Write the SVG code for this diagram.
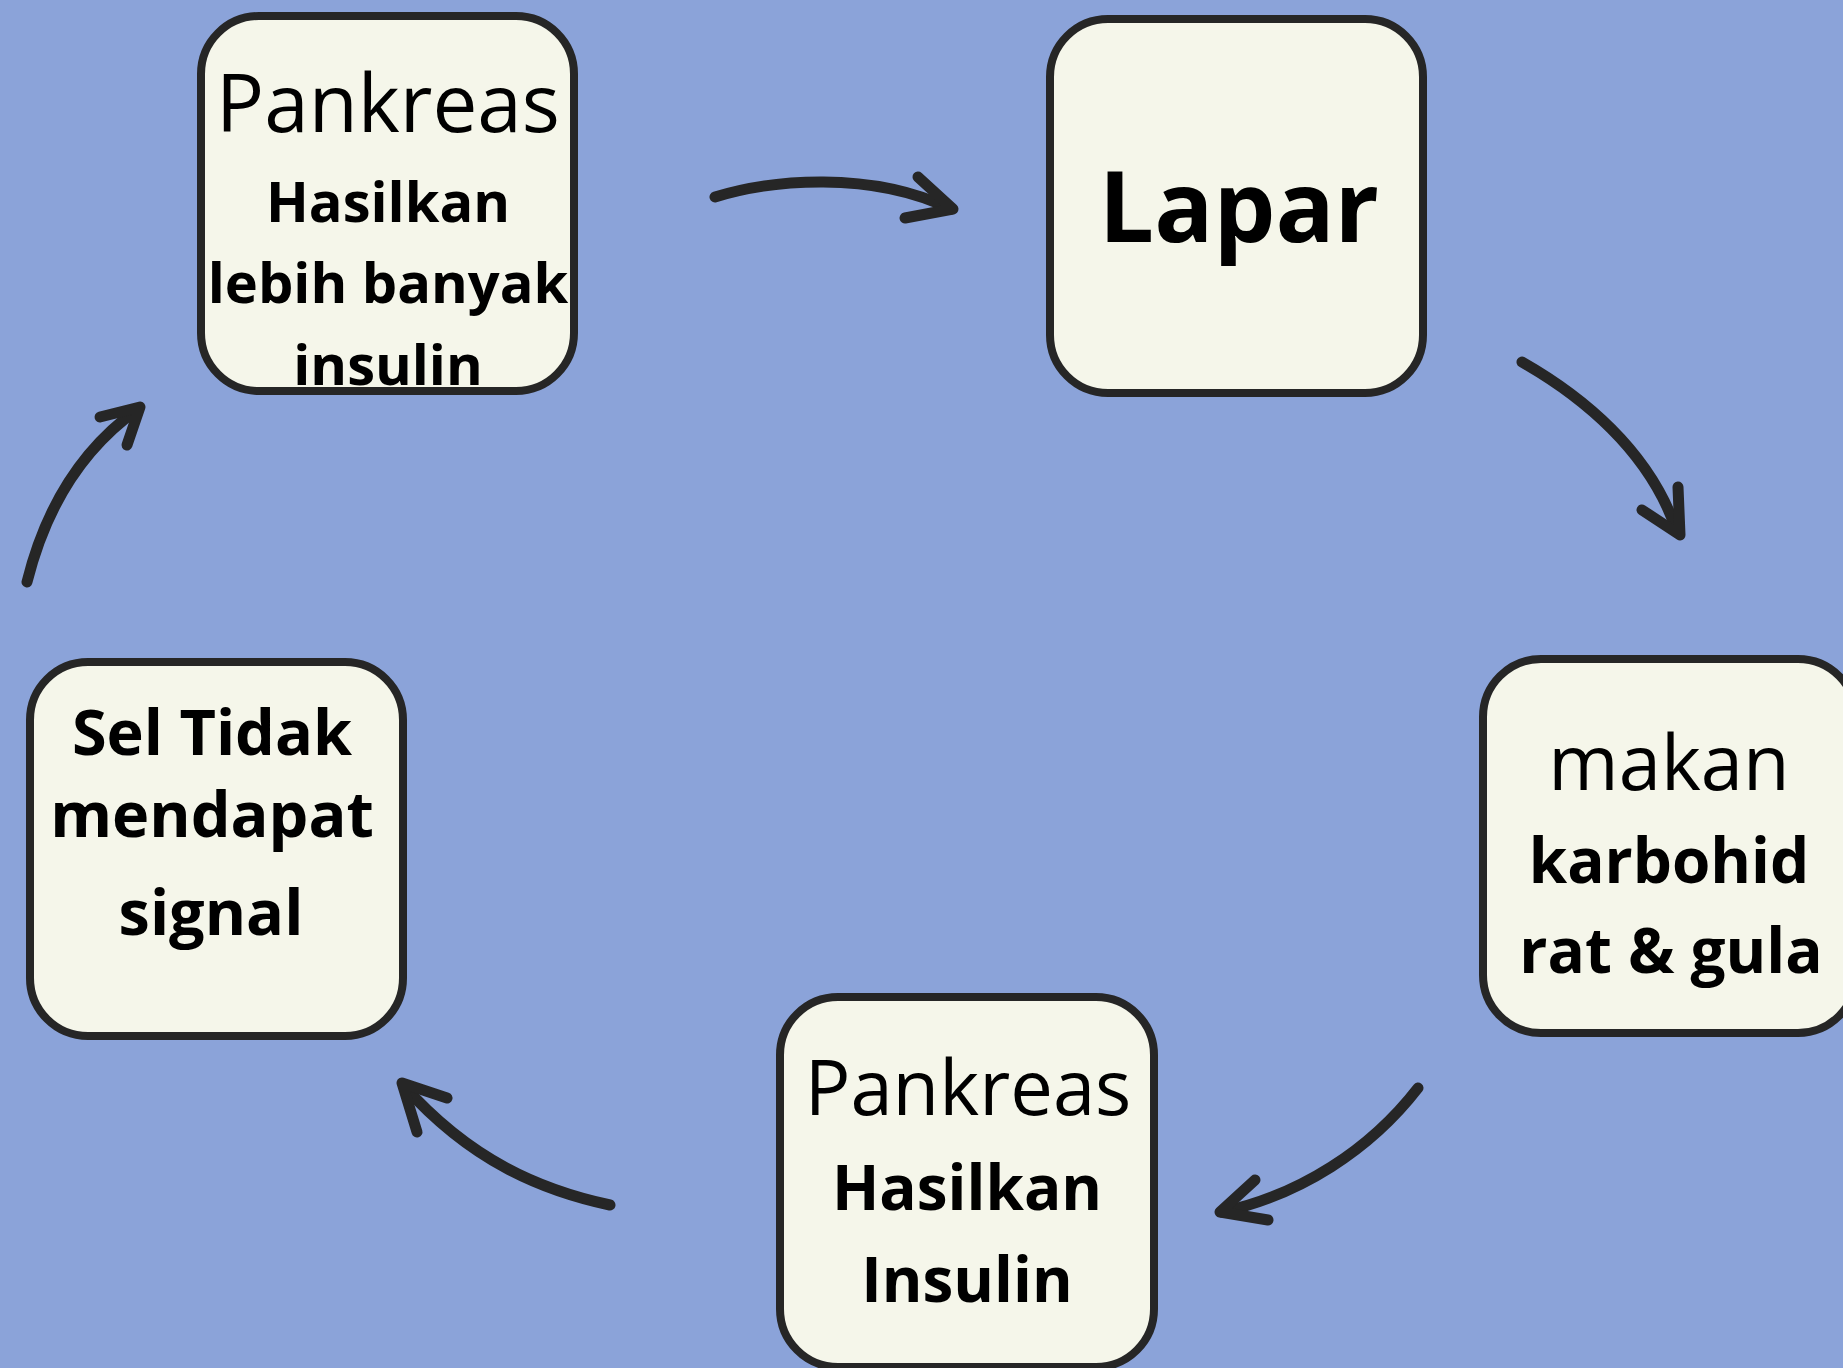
<svg xmlns="http://www.w3.org/2000/svg" width="1843" height="1368" viewBox="0 0 1843 1368">
<style>
.bg{fill:#8BA3D9}
.box{fill:#F5F6EA}
.bd{fill:none;stroke:#262626;stroke-width:8}
.lt{font-family:"Open Sans","Noto Sans",sans-serif;font-weight:400;fill:#000;text-anchor:middle}
.bt{font-family:"Open Sans","Noto Sans",sans-serif;font-weight:700;fill:#000;text-anchor:middle}
.arr{fill:none;stroke:#262626;stroke-width:11;stroke-linecap:round;stroke-linejoin:round}
</style>
<rect class="bg" x="0" y="0" width="1843" height="1368"/>
<g id="node-pankreas-top">
<rect class="box" x="201" y="16" width="373" height="375" rx="58"/>
<text class="lt" x="388" y="132" font-size="80">Pankreas</text>
<text class="bt" x="388" y="222" font-size="56">Hasilkan</text>
<text class="bt" x="388" y="303" font-size="56">lebih banyak</text>
<text class="bt" x="388" y="385" font-size="56">insulin</text>
<rect class="bd" x="201" y="16" width="373" height="375" rx="58"/>
</g>
<g id="node-lapar">
<rect class="box" x="1050" y="19" width="373" height="374" rx="58"/>
<text class="bt" x="1239" y="242" font-size="98">Lapar</text>
<rect class="bd" x="1050" y="19" width="373" height="374" rx="58"/>
</g>
<g id="node-makan">
<rect class="box" x="1483" y="659" width="373" height="374" rx="58"/>
<text class="lt" x="1669" y="790" font-size="76">makan</text>
<text class="bt" x="1669" y="883" font-size="62">karbohid</text>
<text class="bt" x="1671" y="973" font-size="62">rat &amp; gula</text>
<rect class="bd" x="1483" y="659" width="373" height="374" rx="58"/>
</g>
<g id="node-pankreas-bottom">
<rect class="box" x="780" y="997" width="374" height="370" rx="58"/>
<text class="lt" x="968" y="1115" font-size="76">Pankreas</text>
<text class="bt" x="967" y="1210" font-size="62">Hasilkan</text>
<text class="bt" x="967" y="1302" font-size="62">Insulin</text>
<rect class="bd" x="780" y="997" width="374" height="370" rx="58"/>
</g>
<g id="node-sel">
<rect class="box" x="30" y="662" width="373" height="374" rx="58"/>
<text class="bt" x="212" y="755" font-size="63">Sel Tidak</text>
<text class="bt" x="212" y="837" font-size="63">mendapat</text>
<text class="bt" x="211" y="935" font-size="63">signal</text>
<rect class="bd" x="30" y="662" width="373" height="374" rx="58"/>
</g>
<g id="connectors">
<path class="arr" d="M715,197 C770,180 870,170 951,209"/>
<path class="arr" d="M918,177 L953,209 L905,218"/>
<path class="arr" d="M1522,362 C1580,395 1650,450 1677,532"/>
<path class="arr" d="M1678,487 L1680,535 L1642,510"/>
<path class="arr" d="M1418,1088 C1370,1150 1300,1195 1222,1212"/>
<path class="arr" d="M1255,1180 L1220,1212 L1268,1220"/>
<path class="arr" d="M610,1205 C540,1190 470,1160 404,1086"/>
<path class="arr" d="M447,1098 L402,1083 L417,1132"/>
<path class="arr" d="M27,582 C45,510 80,450 138,409"/>
<path class="arr" d="M100,417 L140,407 L127,445"/>
</g>
</svg>
